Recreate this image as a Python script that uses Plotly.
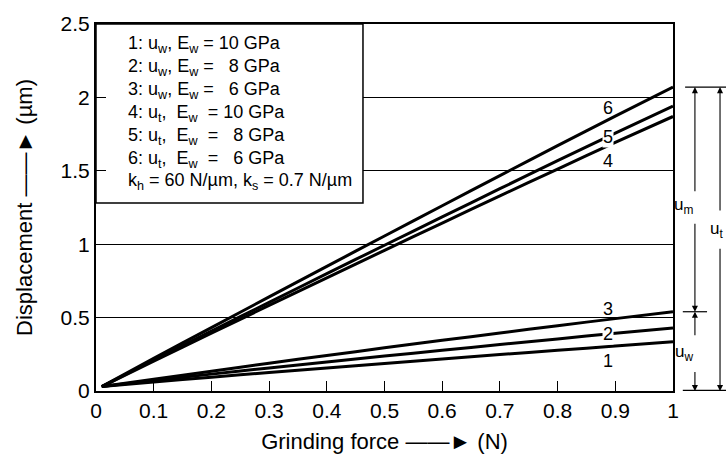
import plotly.graph_objects as go

# Grinding force (N)
force = [0.01, 0.1, 0.2, 0.3, 0.4, 0.5, 0.6, 0.7, 0.8, 0.9, 1.0]

# Displacement (um): workpiece deflection u_w (curves 1-3) and total u_t (curves 4-6)
uw_10 = [0.03, 0.061, 0.094, 0.126, 0.157, 0.188, 0.218, 0.248, 0.277, 0.306, 0.335]
uw_8 = [0.03, 0.071, 0.115, 0.157, 0.198, 0.238, 0.277, 0.316, 0.355, 0.393, 0.43]
uw_6 = [0.03, 0.08, 0.135, 0.189, 0.242, 0.294, 0.345, 0.395, 0.445, 0.493, 0.54]
ut_10 = [0.03, 0.204, 0.394, 0.583, 0.771, 0.958, 1.144, 1.329, 1.512, 1.693, 1.87]
ut_8 = [0.03, 0.211, 0.408, 0.604, 0.799, 0.993, 1.186, 1.378, 1.569, 1.757, 1.94]
ut_6 = [0.03, 0.222, 0.432, 0.641, 0.849, 1.056, 1.262, 1.467, 1.671, 1.872, 2.07]

curves = [uw_10, uw_8, uw_6, ut_10, ut_8, ut_6]
curve_ids = ["1", "2", "3", "4", "5", "6"]

# curve number labels (x, y in data units)
label_x = 0.887
label_y = [0.207, 0.387, 0.56, 1.564, 1.73, 1.925]
label_bg = [None, "white", None, None, "white", None]

x_ticks = [0, 0.1, 0.2, 0.3, 0.4, 0.5, 0.6, 0.7, 0.8, 0.9, 1]
x_ticktext = ["0", "0.1", "0.2", "0.3", "0.4", "0.5", "0.6", "0.7", "0.8", "0.9", "1"]
y_ticks = [0, 0.5, 1, 1.5, 2, 2.5]
y_ticktext = ["0", "0.5", "1", "1.5", "2", "2.5"]

legend_lines = [
    "1: u<sub>w</sub>, E<sub>w</sub> = 10 GPa",
    "2: u<sub>w</sub>, E<sub>w</sub> = \u00a0\u00a08 GPa",
    "3: u<sub>w</sub>, E<sub>w</sub> = \u00a0\u00a06 GPa",
    "4: u<sub>t</sub>, \u00a0E<sub>w</sub> \u00a0= 10 GPa",
    "5: u<sub>t</sub>, \u00a0E<sub>w</sub> \u00a0= \u00a0\u00a08 GPa",
    "6: u<sub>t</sub>, \u00a0E<sub>w</sub> \u00a0= \u00a0\u00a06 GPa",
    "k<sub>h</sub> = 60 N/\u00b5m, k<sub>s</sub> = 0.7 N/\u00b5m",
]
legend_top = 2.36    # centre of first text row (data units)
legend_step = 0.156  # row spacing (data units)

FONT = "Liberation Sans, Arial, Helvetica, sans-serif"

fig = go.Figure()
for ys in curves:
    fig.add_trace(go.Scatter(x=force, y=ys, mode="lines",
                             line=dict(color="black", width=3, shape="spline", smoothing=0.6),
                             showlegend=False, hoverinfo="skip"))

annotations = []
for cid, ly, bg in zip(curve_ids, label_y, label_bg):
    annotations.append(dict(x=label_x, y=ly, xref="x", yref="y", text=cid,
                            showarrow=False, font=dict(size=18),
                            bgcolor=bg if bg else "rgba(0,0,0,0)", borderpad=0))

# legend-style text block, one annotation per row
for i, line in enumerate(legend_lines):
    annotations.append(dict(x=0.052, y=legend_top - i * legend_step, xref="x", yref="y",
                            xanchor="left", yanchor="middle", text=line, align="left",
                            showarrow=False, font=dict(size=18)))

# dimension markers on the right-hand side
u_top = ut_6[-1]
u_mid = uw_6[-1]
xm, xt = 1.038, 1.0815


def arrow(xp, tip, tail):
    return dict(x=xp, y=tip, xref="paper", yref="y", ax=0, axref="pixel",
                ay=tail, ayref="y", text="", showarrow=True, arrowhead=2,
                arrowsize=1.1, arrowwidth=1.1, arrowcolor="black")


annotations += [
    arrow(xm, u_top, 1.35), arrow(xm, u_mid, 1.15),
    arrow(xm, u_mid, 0.37), arrow(xt, u_top, 1.22),
    arrow(xt, 0, 0.98), arrow(xm, 0, 0.14),
    dict(x=xm, y=1.26, xref="paper", yref="y", text="u<sub>m</sub>", showarrow=False,
         font=dict(size=17)),
    dict(x=1.0, y=1.10, xref="paper", yref="y", text="u<sub>t</sub>", showarrow=False,
         font=dict(size=17), xanchor="right", xshift=52),
    dict(x=xm, y=0.26, xref="paper", yref="y", text="u<sub>w</sub>", showarrow=False,
         font=dict(size=17)),
]

shapes = [
    # legend frame, opaque so the grid stops at its edge
    dict(type="rect", xref="x", yref="y", x0=0, x1=0.4627, y0=1.28, y1=2.5,
         fillcolor="white", line=dict(color="black", width=1.5), layer="between"),
    dict(type="line", xref="paper", yref="y", x0=1.021, x1=1.1, y0=u_top, y1=u_top,
         line=dict(color="black", width=1.2)),
    dict(type="line", xref="paper", yref="y", x0=1.017, x1=1.059, y0=u_mid, y1=u_mid,
         line=dict(color="black", width=1.2)),
    dict(type="line", xref="paper", yref="y", x0=1.017, x1=1.1, y0=0.004, y1=0.004,
         line=dict(color="black", width=1.2)),
]

fig.update_layout(
    width=726, height=464,
    margin=dict(l=96, r=53, t=17, b=73),
    paper_bgcolor="white", plot_bgcolor="white",
    font=dict(family=FONT, size=21, color="black"),
    annotations=annotations, shapes=shapes,
    xaxis=dict(range=[0, 1], tickvals=x_ticks, ticktext=x_ticktext,
               ticks="inside", ticklen=10, tickwidth=1.2, tickcolor="black",
               showline=True, linecolor="black", linewidth=2, mirror=True,
               showgrid=False, zeroline=False, tickfont=dict(size=21),
               title=dict(text="Grinding force \u2014\u2014\u25ba (N)", standoff=12,
                          font=dict(size=22))),
    yaxis=dict(range=[0, 2.5], tickvals=y_ticks, ticktext=y_ticktext,
               ticks="inside", ticklen=10, tickwidth=1.2, tickcolor="black",
               showline=True, linecolor="black", linewidth=2, mirror=True,
               showgrid=True, gridcolor="black", gridwidth=1, zeroline=False,
               tickfont=dict(size=21),
               title=dict(text="Displacement \u2014\u2014\u25ba (\u00b5m)", standoff=22,
                          font=dict(size=22))),
)

fig.write_html("out.html")
